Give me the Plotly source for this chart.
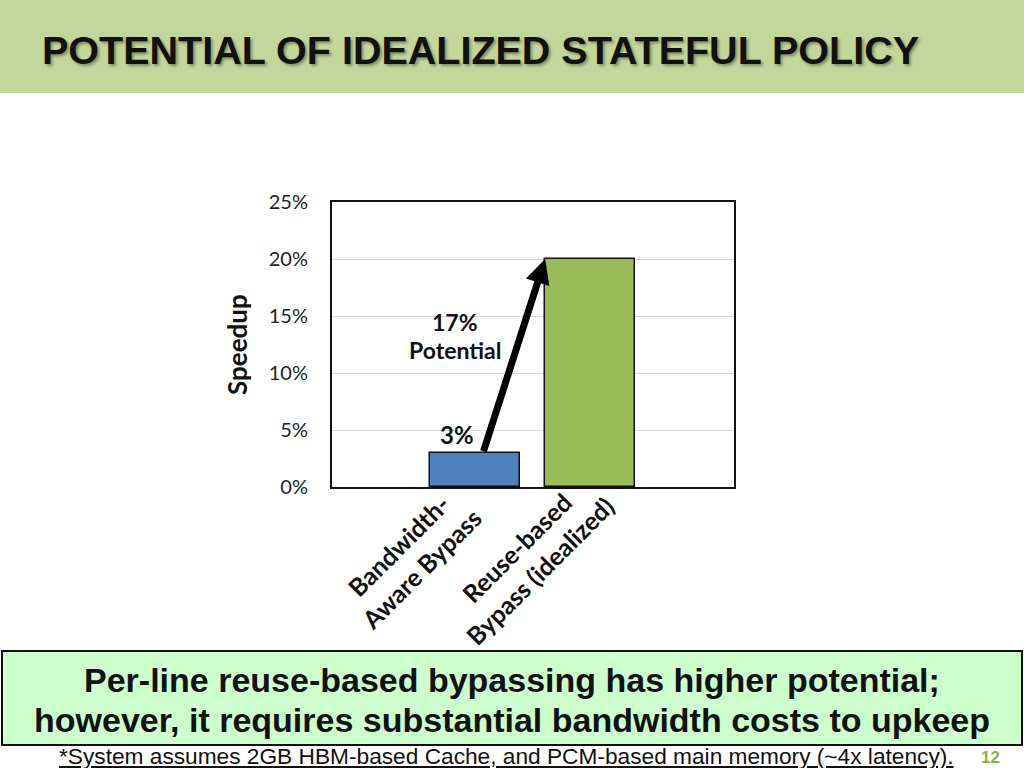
import plotly.graph_objects as go

# values
categories = ["Bandwidth-Aware Bypass", "Reuse-based Bypass (idealized)"]
label_lines = ["Bandwidth-<br>Aware Bypass", "Reuse-based<br>Bypass (idealized)"]
speedup = [0.03, 0.20]
bar_colors = ["#4F81BD", "#9BBB59"]
y_ticks = [0, 0.05, 0.10, 0.15, 0.20, 0.25]

TITLE = "POTENTIAL OF IDEALIZED STATEFUL POLICY"
TAKEAWAY = ["Per-line reuse-based bypassing has higher potential;",
            "however, it requires substantial bandwidth costs to upkeep"]
FOOTNOTE = "*System assumes 2GB HBM-based Cache, and PCM-based main memory (~4x latency)."
PAGE = "12"

W, H = 1024, 768
ARIAL = "Liberation Sans, Arial, sans-serif"
CAL = "Lato, Calibri, Carlito, sans-serif"
INK = "#111111"


def px(x):
    return x / W


def py(y):
    return 1 - y / H


fig = go.Figure()
fig.add_trace(go.Bar(
    x=list(range(len(categories))), y=speedup, width=0.78,
    marker=dict(color=bar_colors, line=dict(color=INK, width=1.5)),
    hovertext=categories, showlegend=False,
))

ann = []
# slide title in the green header band
ann.append(dict(x=px(40), y=py(50), xref="paper", yref="paper", xanchor="left",
                yanchor="middle", showarrow=False, text=f"<b>{TITLE}</b>",
                font=dict(family=ARIAL, size=39.5, color=INK,
                          shadow="2px 2px 3px rgba(0,0,0,0.35)")))
ann.append(dict(x=px(237), y=py(345), xref="paper", yref="paper", textangle=-90,
                xanchor="center", yanchor="middle",
                showarrow=False, text="<b>Speedup</b>",
                font=dict(family=CAL, size=26, color=INK)))
# rotated category labels (Excel style, 45 deg)
for i, (txt, dx, cy) in enumerate(zip(label_lines, [-0.57, -0.54], [557, 559])):
    ann.append(dict(x=i + dx, y=py(cy), xref="x", yref="paper", textangle=-45,
                    xanchor="center", yanchor="middle",
                    showarrow=False, text=f"<b>{txt}</b>", align="center",
                    font=dict(family=CAL, size=25, color=INK)))
# value label + potential callout
ann.append(dict(x=-0.16, y=0.046, xref="x", yref="y", showarrow=False,
                text=f"<b>{speedup[0]:.0%}</b>", font=dict(family=CAL, size=24, color=INK)))
ann.append(dict(x=-0.17, y=0.1445, xref="x", yref="y", showarrow=False,
                text=f"<b>{speedup[1] - speedup[0]:.0%}</b>",
                font=dict(family=CAL, size=23, color=INK)))
ann.append(dict(x=-0.17, y=0.12, xref="x", yref="y", showarrow=False,
                text="<b>Potential</b>", font=dict(family=CAL, size=23, color=INK)))
ann.append(dict(x=0.61, y=speedup[1], ax=0.07, ay=speedup[0], xref="x", yref="y",
                axref="x", ayref="y", text="", showarrow=True, arrowhead=2,
                arrowsize=0.7, arrowwidth=7, arrowcolor="#000000", standoff=0))
# takeaway box text, one annotation per line
for line, cy in zip(TAKEAWAY, [680, 720]):
    ann.append(dict(x=px(512), y=py(cy), xref="paper", yref="paper", showarrow=False,
                    xanchor="center", yanchor="middle", text=f"<b>{line}</b>",
                    font=dict(family=ARIAL, size=34, color=INK)))
ann.append(dict(x=px(57), y=py(756), xref="paper", yref="paper", xanchor="left",
                yanchor="middle", showarrow=False, text=FOOTNOTE,
                font=dict(family=ARIAL, size=22.7, color=INK, lineposition="under")))
ann.append(dict(x=px(990), y=py(757), xref="paper", yref="paper", showarrow=False,
                xanchor="center", yanchor="middle",
                text=f"<b>{PAGE}</b>", font=dict(family=ARIAL, size=17, color="#8DB048")))

shapes = [
    dict(type="rect", xref="paper", yref="paper", x0=0, x1=1, y0=py(93), y1=1,
         fillcolor="#C4D79B", line_width=0, layer="below"),
    dict(type="rect", xref="paper", yref="paper", x0=px(2), x1=px(1022),
         y0=py(745), y1=py(651), fillcolor="#CCFFCC",
         line=dict(color=INK, width=2), layer="below"),
]

fig.update_layout(
    template="none",
    width=W, height=H, margin=dict(l=0, r=0, t=0, b=0, pad=0, autoexpand=False),
    paper_bgcolor="white", plot_bgcolor="white",
    xaxis=dict(domain=[px(332), px(734)], range=[-1.243, 2.252], showticklabels=False,
               automargin=False, ticks="",
               showgrid=False, zeroline=False, showline=True, mirror=True,
               linecolor=INK, linewidth=2, fixedrange=True),
    yaxis=dict(domain=[py(487), py(202)], range=[0, 0.25], tickvals=y_ticks,
               automargin=False, ticks="",
               tickformat=".0%", showgrid=True, gridcolor="#D9D9D9", gridwidth=1,
               zeroline=False, showline=True, mirror=True, linecolor=INK,
               linewidth=2, ticklabelstandoff=18,
               tickfont=dict(family=CAL, size=20, color="#222222")),
    annotations=ann, shapes=shapes, bargap=0,
)

# page body has a default 8px margin; drop it so the slide sits at the corner
fig.write_html("out.html", config={"displayModeBar": False},
               post_script="document.body.style.margin='0';")
